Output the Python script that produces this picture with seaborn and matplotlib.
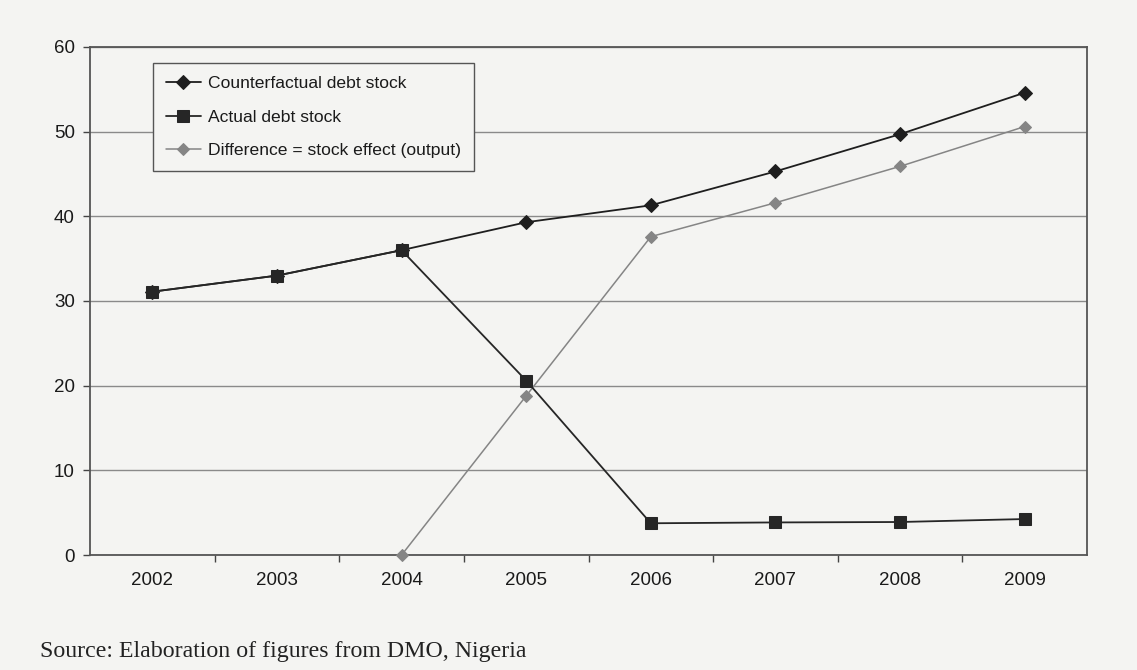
import numpy as np
import pandas as pd
import matplotlib
matplotlib.use("Agg")
import matplotlib.pyplot as plt
from matplotlib.ticker import FixedLocator
import seaborn as sns

# Nigerian debt stock series (US$ billion)
years = ["2002", "2003", "2004", "2005", "2006", "2007", "2008", "2009"]
counterfactual = [31.1, 33.0, 36.0, 39.3, 41.3, 45.3, 49.7, 54.6]
actual = [31.1, 33.0, 36.0, 20.6, 3.75, 3.85, 3.9, 4.25]
difference = [np.nan, np.nan, 0.0, 18.8, 37.6, 41.6, 45.9, 50.6]

labels = ["Counterfactual debt stock", "Actual debt stock",
          "Difference = stock effect (output)"]
y_ticks = [0, 10, 20, 30, 40, 50, 60]

sns.set_theme(style="white")
plt.rcParams["font.family"] = ["Liberation Sans", "DejaVu Sans"]

paper = "#f4f4f2"
fig = plt.figure(figsize=(11.37, 6.70), dpi=100, facecolor=paper)
ax = fig.add_axes([0.0792, 0.1716, 0.8768, 0.7583])
ax.set_facecolor(paper)

pos = np.arange(len(years))
df = pd.DataFrame({"pos": pos, "cf": counterfactual, "act": actual,
                   "diff": difference})

sns.lineplot(data=df, x="pos", y="cf", ax=ax, color="#1e1e1e", lw=1.3,
             marker="D", markersize=7.5, markeredgecolor="#1e1e1e",
             label=labels[0], zorder=3, clip_on=False)
sns.lineplot(data=df, x="pos", y="act", ax=ax, color="#262626", lw=1.3,
             marker="s", markersize=8.5, markeredgecolor="#262626",
             label=labels[1], zorder=4, clip_on=False)
sns.lineplot(data=df.dropna(), x="pos", y="diff", ax=ax, color="#858585",
             lw=1.1, marker="D", markersize=6, markeredgecolor="#858585",
             label=labels[2], zorder=3, clip_on=False)

ax.set_xlim(-0.5, len(years) - 0.5)
ax.set_ylim(0, 60)
ax.set_xlabel("")
ax.set_ylabel("")

# Category labels centred, tick marks on category boundaries
ax.set_xticks(pos)
ax.set_xticklabels(years, fontsize=13.5, color="#1a1a1a")
ax.xaxis.set_minor_locator(FixedLocator(pos[:-1] + 0.5))
ax.tick_params(axis="x", which="major", length=0, pad=12)
ax.tick_params(axis="x", which="minor", length=5, width=1.0,
               color="#444444", direction="out", bottom=True)

ax.set_yticks(y_ticks)
ax.set_yticklabels([str(v) for v in y_ticks], fontsize=13.5, color="#1a1a1a")
ax.tick_params(axis="y", length=5, width=1.0, color="#444444",
               direction="out", left=True, pad=6)

ax.grid(axis="y", color="#8a8a8a", lw=1.0)
ax.set_axisbelow(True)
for side in ["left", "right", "top", "bottom"]:
    ax.spines[side].set_visible(True)
    ax.spines[side].set_color("#555555")
    ax.spines[side].set_linewidth(1.3)

leg = ax.legend(loc="upper left", bbox_to_anchor=(0.063, 0.969),
                fontsize=12.6, frameon=True, fancybox=False, framealpha=1,
                facecolor=paper, edgecolor="#555555", handlelength=2.0,
                handletextpad=0.4, labelspacing=1.05, borderpad=0.75,
                borderaxespad=0)
leg.get_frame().set_linewidth(1.0)
for t in leg.get_texts():
    t.set_color("#1a1a1a")

fig.text(0.035, 0.012, "Source: Elaboration of figures from DMO, Nigeria",
         family=["Liberation Serif", "DejaVu Serif"], fontsize=17.2,
         color="#222222", ha="left", va="bottom")

fig.savefig("out.png", dpi=100, facecolor=paper)
